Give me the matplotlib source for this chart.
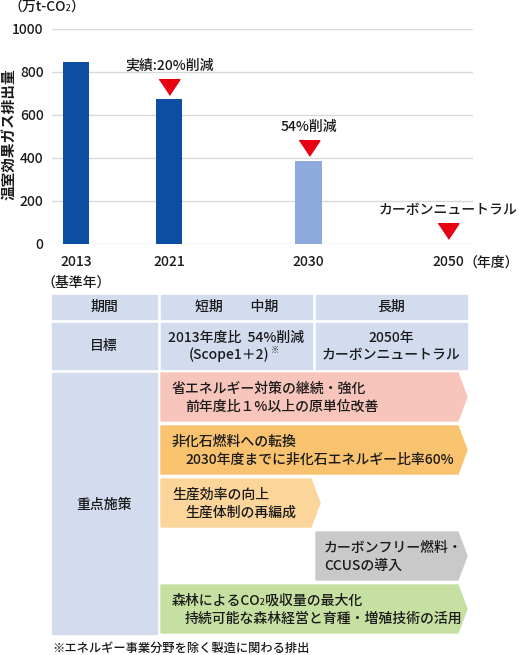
# 温室効果ガス排出量の推移と削減目標

import matplotlib.pyplot as plt
from matplotlib.patches import Polygon, Rectangle

plt.rcParams['font.family'] = ['Liberation Sans Narrow', 'Noto Sans CJK JP', 'DejaVu Sans']
plt.rcParams['font.weight'] = 'medium'
plt.rcParams['text.color'] = '#1A1A1A'

# グラフのデータ
years = ['2013', '2021', '2030', '2050']
xpos = [0, 1, 2.5, 4]
emissions = [844, 672, 384, 0]
bar_colors = ['#0B4EA2', '#0B4EA2', '#8EA9DB', 'none']
marks = [None, '実績:20%削減', '54%削減', 'カーボンニュートラル']
yticks = [0, 200, 400, 600, 800, 1000]

# 表のデータ
header = ['期間', '短期　　中期', '長期']
target_mid = ['2013年度比  54%削減', '(Scope1＋2)']
target_long = ['2050年', 'カーボンニュートラル']
measures = [
    ('省エネルギー対策の継続・強化', '前年度比１%以上の原単位改善'),
    ('非化石燃料への転換', '2030年度までに非化石エネルギー比率60%'),
    ('生産効率の向上', '生産体制の再編成'),
    ('カーボンフリー燃料・', 'CCUSの導入'),
    ('森林によるCO₂吸収量の最大化', '持続可能な森林経営と育種・増殖技術の活用'),
]
measure_colors = ['#F8C5BD', '#F9C26E', '#FCD59A', '#C9C9C9', '#C6E0A2']
footnote = '※エネルギー事業分野を除く製造に関わる排出'

W, H = 519, 655
fs = 10
fig = plt.figure(figsize=(W / 100, H / 100), dpi=100)

# --- 棒グラフ ---
ax = fig.add_axes([52 / W, 1 - 243.5 / H, 421 / W, 215 / H])
ax.bar(xpos, emissions, width=0.28, color=bar_colors, zorder=2)
ax.set_xlim(-0.26, 4.27)
ax.set_ylim(0, 1000)
ax.set_yticks(yticks)
ax.set_xticks(xpos)
ax.set_xticklabels(years)
ax.grid(axis='y', color='#D9D9D9', linewidth=1, zorder=0)
for s in ax.spines.values():
    s.set_visible(False)
ax.tick_params(length=0, labelsize=10, colors='#1A1A1A')
ax.tick_params(axis='x', pad=8)
ax.tick_params(axis='y', pad=6)

tri = [(-1, 0.75), (1, 0.75), (0, -0.75)]
for x, v, m in zip(xpos, emissions, marks):
    if m is None:
        continue
    ax.scatter([x], [v + 58], marker=tri, s=225, color='#E60012', zorder=3)
    ax.annotate(m, (x, v + 58), xytext=(0, 15.5), textcoords='offset points',
                ha='center', va='center', fontsize=fs)

ax.text(xpos[0], -0.18, '（基準年）', transform=ax.get_xaxis_transform(),
        ha='center', va='center', fontsize=fs)
ax.text(xpos[3] + 0.17, -0.087, '（年度）', transform=ax.get_xaxis_transform(),
        ha='left', va='center', fontsize=10)

fig.text(8 / W, 1 - 134 / H, '温室効果ガス排出量', rotation=90,
         ha='center', va='center', fontsize=10.5, fontweight='bold')
fig.text(8 / W, 1 - 8 / H, '（万t-CO₂）', ha='left', va='center', fontsize=fs)

# --- 表 ---
tb = fig.add_axes([0, 0, 1, 1], zorder=-1)
tb.set_xlim(0, W)
tb.set_ylim(H, 0)
tb.axis('off')

blue = '#D3DCEF'
cols = [(52, 157), (161, 312), (316, 467)]
for (x0, x1), t in zip(cols, header):
    tb.add_patch(Rectangle((x0, 295), x1 - x0, 24, color=blue))
    tb.text((x0 + x1) / 2, 307, t, ha='center', va='center', fontsize=fs)

for x0, x1 in cols:
    tb.add_patch(Rectangle((x0, 323), x1 - x0, 46, color=blue))
tb.text(104, 346, '目標', ha='center', va='center', fontsize=fs)
tb.text(236, 338, target_mid[0], ha='center', va='center', fontsize=fs)
tb.text(229, 355, target_mid[1], ha='center', va='center', fontsize=fs)
tb.text(271, 350, '※', ha='left', va='center', fontsize=6)
tb.text(391, 338, target_long[0], ha='center', va='center', fontsize=fs)
tb.text(391, 355, target_long[1], ha='center', va='center', fontsize=fs)

tb.add_patch(Rectangle((52, 373), 105, 261, color=blue))
tb.text(104, 505, '重点施策', ha='center', va='center', fontsize=fs)

spans = [(161, 458), (161, 458), (161, 311), (316, 458), (161, 458)]
tops = [373, 426, 479, 532, 585]
for (x0, x1), y0, c, (l1, l2) in zip(spans, tops, measure_colors, measures):
    y1 = y0 + 48
    tb.add_patch(Polygon([(x0, y0), (x1, y0), (x1 + 9, (y0 + y1) / 2),
                          (x1, y1), (x0, y1)], closed=True, color=c))
    tx = x0 + 11 if x0 < 200 else x0 + 8
    indent = 13 if x0 < 200 else 0
    tb.text(tx, y0 + 16, l1, ha='left', va='center', fontsize=fs)
    tb.text(tx + indent, y0 + 34, l2, ha='left', va='center', fontsize=fs)

tb.text(52, 648, footnote, ha='left', va='center', fontsize=8.8)

fig.savefig('out.png', dpi=100)
